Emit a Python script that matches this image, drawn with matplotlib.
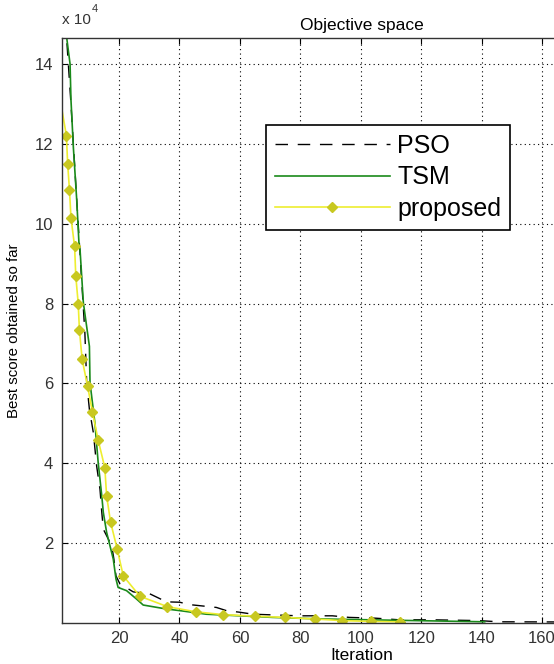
import numpy as np
import matplotlib
matplotlib.use("Agg")
import matplotlib.pyplot as plt

plt.rcParams["font.family"] = ["Liberation Sans", "DejaVu Sans"]

# iteration / best score (x 1e4)
pso_x = [1, 2.7, 4.1, 6.0, 7.7, 8.7, 9.3, 10.2, 11.5, 12.6, 13.7, 14.3, 14.8, 17.6, 18.3,
         19.0, 20.3, 24.7, 30.2, 35.7, 40.1, 43.4, 52.2, 55.5, 59.9, 64.3, 79.7, 90.6,
         96.2, 105, 112.7, 123.6, 139, 145.7, 200]
pso_y = [15.8, 14.6, 13.0, 10.6, 8.5, 7.27, 6.02, 5.35, 4.77, 3.93, 3.35, 2.77, 2.35, 1.93, 1.6,
         1.18, 0.98, 0.78, 0.73, 0.53, 0.52, 0.46, 0.39, 0.31, 0.27, 0.22, 0.18, 0.18,
         0.14, 0.12, 0.08, 0.08, 0.06, 0.03, 0.02]

tsm_x = [1, 2.7, 3.8, 4.1, 4.9, 6.0, 6.8, 7.1, 8.2, 10.2, 10.4, 12.0, 13.1, 14.3, 14.8,
         15.9, 18.1, 19.0, 19.7, 22.5, 25.8, 28.0, 35.7, 40.1, 48.9, 59.9, 70.9, 87.4, 141]
tsm_y = [15.9, 14.65, 14.0, 13.1, 11.9, 10.6, 9.43, 9.35, 8.02, 6.93, 6.02, 5.02, 4.02, 3.18, 2.77,
         2.27, 1.6, 1.1, 0.89, 0.81, 0.6, 0.45, 0.35, 0.31, 0.22, 0.18, 0.14, 0.1, 0.03]

prop_x = [1, 2.6, 3.0, 3.6, 4.1, 5.3, 5.7, 6.5, 6.9, 7.8, 9.6, 11.2, 13.1, 15.3, 15.9,
          17.2, 19.4, 21.4, 26.9, 36.0, 45.4, 54.4, 64.9, 74.8, 84.7, 93.8, 103.4, 113.1]
prop_y = [12.9, 12.2, 11.5, 10.85, 10.15, 9.43, 8.68, 8.0, 7.33, 6.6, 5.93, 5.29, 4.58, 3.89, 3.18,
          2.53, 1.85, 1.18, 0.67, 0.41, 0.28, 0.21, 0.17, 0.14, 0.10, 0.06, 0.04, 0.03]

x_ticks = [20, 40, 60, 80, 100, 120, 140, 160]
y_ticks = [2, 4, 6, 8, 10, 12, 14]

fig = plt.figure(figsize=(5.54, 6.64), dpi=100)
ax = fig.add_axes([61.6 / 554, 41 / 664, (663 - 61.6) / 554, 585 / 664])

ax.plot(pso_x, np.array(pso_y) * 1e4, color="black", linestyle=(0, (9, 7)), linewidth=1.0, label="PSO")
ax.plot(tsm_x, np.array(tsm_y) * 1e4, color="#1a8a1a", linewidth=1.2, label="TSM")
ax.plot(prop_x, np.array(prop_y) * 1e4, color="#eeee30", linewidth=1.2, marker="D",
        markersize=5, markerfacecolor="#c8c820", markeredgecolor="#c8c820",
        markevery=list(range(1, len(prop_x))), label="proposed")

ax.set_xlim(1, 200)
ax.set_ylim(0, 14.65e4)
ax.set_xticks(x_ticks)
ax.set_yticks([v * 1e4 for v in y_ticks])
ax.set_yticklabels([str(v) for v in y_ticks])
ax.tick_params(direction="in", top=True, right=True, labelsize=12, length=4, pad=6,
               labelcolor="#333333")
ax.grid(True, color="black", linestyle=(0, (1, 3)), linewidth=0.8)
for s in ax.spines.values():
    s.set_color("#333333")
    s.set_linewidth(1.0)

ax.set_title("Objective space", fontsize=12.5, pad=6)
ax.set_xlabel("Iteration", fontsize=12.5, labelpad=1)
ax.set_ylabel("Best score obtained so far", fontsize=10.8, labelpad=10)

fig.text(62 / 554, 1 - 24 / 664, "x 10", fontsize=11, va="baseline", color="#333333")
fig.text(92 / 554, 1 - 12 / 664, "4", fontsize=8, va="baseline", color="#333333")

leg = ax.legend(loc="upper left", bbox_to_anchor=(266 / 554, 1 - 125 / 664),
                bbox_transform=fig.transFigure, fontsize=18, handlelength=4.6,
                fancybox=False, framealpha=1, edgecolor="black", borderpad=0.35,
                borderaxespad=0, labelspacing=0.3, handletextpad=0.3)
leg.get_frame().set_linewidth(1.2)

fig.savefig("out.png", dpi=100)
